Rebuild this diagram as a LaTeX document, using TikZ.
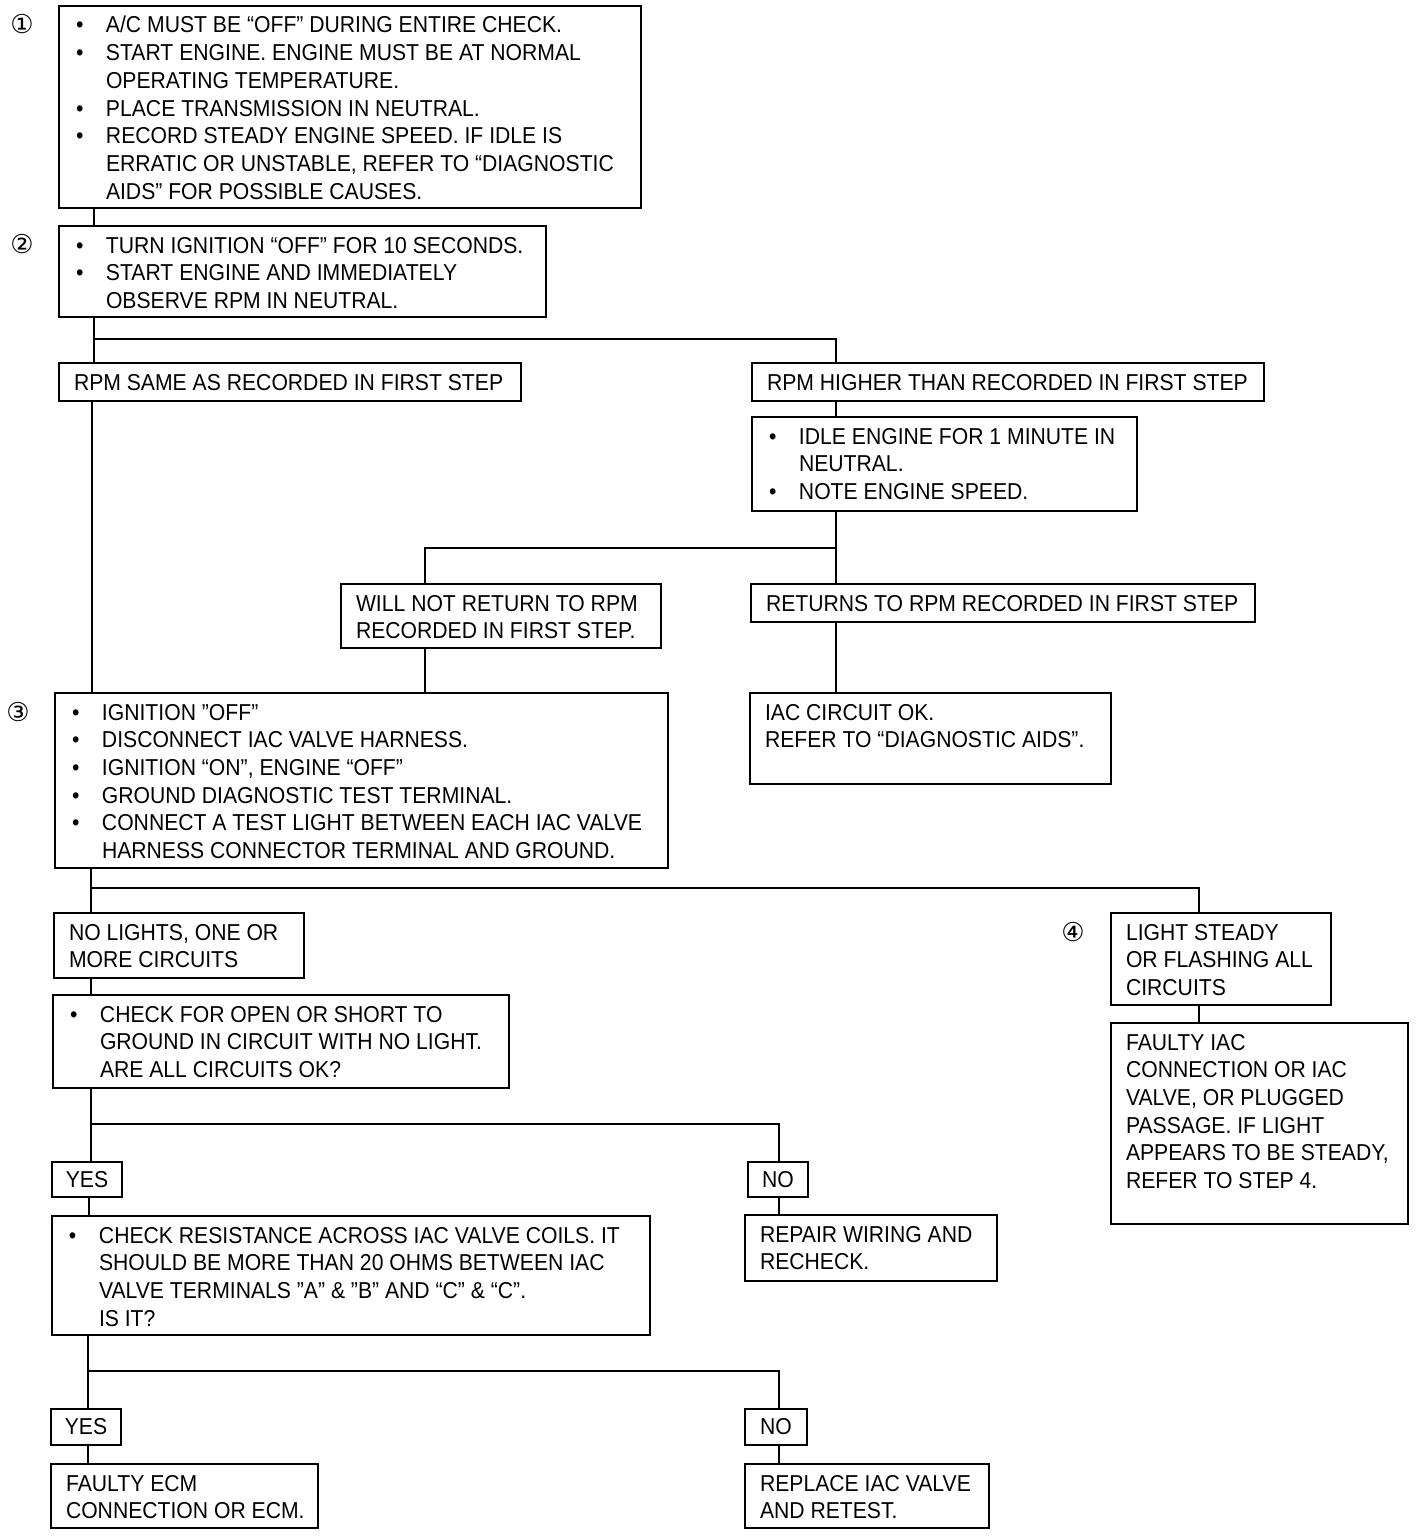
\documentclass[tikz,border=0pt]{standalone}
\usepackage{fontspec}
\setmainfont{Liberation Sans}[FakeStretch=0.92]
\newfontfamily\circfont{DejaVu Sans}
\newcommand{\mystrut}{\rule[-7.7pt]{0pt}{27.7pt}}
\newcommand{\Bl}[1]{\hbox to \hsize{\hskip17pt\hbox to 30pt{\textbullet\hss}\mystrut#1\hss}}
\newcommand{\Cl}[1]{\hbox to \hsize{\hskip47pt\mystrut#1\hss}}
\newcommand{\Pl}[1]{\hbox to \hsize{\hskip15pt\mystrut#1\hss}}
\newcommand{\Bcont}[3]{\parbox[c][#2pt][t]{#1pt}{\baselineskip=27.7pt\vspace*{7pt}#3}}
\newcommand{\Ycont}[3]{\parbox[c][#2pt][c]{#1pt}{\centering #3}}
\begin{document}
\begin{tikzpicture}[x=1pt,y=-1pt,
  every node/.style={font=\fontsize{23pt}{27.7pt}\selectfont},
  box/.style={draw, line width=2.5pt, inner sep=0pt, outer sep=0pt, anchor=north west},
  conn/.style={line width=2.3pt},
  circ/.style={font=\circfont\fontsize{26pt}{26pt}\selectfont, inner sep=0pt}]
\useasboundingbox (0,0) rectangle (1424,1536);

\node[circ] (n1) at (22,24) {①};
\node[circ] (n2) at (22,244) {②};
\node[circ] (n3) at (18,712) {③};
\node[circ] (n4) at (1073,932) {④};

\node[box] (b1) at (59,6) {\Bcont{582}{202}{%
\Bl{A/C MUST BE “OFF” DURING ENTIRE CHECK.}
\Bl{START ENGINE. ENGINE MUST BE AT NORMAL}
\Cl{OPERATING TEMPERATURE.}
\Bl{PLACE TRANSMISSION IN NEUTRAL.}
\Bl{RECORD STEADY ENGINE SPEED. IF IDLE IS}
\Cl{ERRATIC OR UNSTABLE, REFER TO “DIAGNOSTIC}
\Cl{AIDS” FOR POSSIBLE CAUSES.}}};

\node[box] (b2) at (59,226) {\Bcont{487}{91}{%
\Bl{TURN IGNITION “OFF” FOR 10 SECONDS.}
\Bl{START ENGINE AND IMMEDIATELY}
\Cl{OBSERVE RPM IN NEUTRAL.}}};

\node[box] (same) at (59,363) {\Bcont{462}{38}{%
\Pl{RPM SAME AS RECORDED IN FIRST STEP}}};

\node[box] (high) at (752,363) {\Bcont{512}{38}{%
\Pl{RPM HIGHER THAN RECORDED IN FIRST STEP}}};

\node[box] (idle) at (752,417) {\Bcont{385}{94}{%
\Bl{IDLE ENGINE FOR 1 MINUTE IN}
\Cl{NEUTRAL.}
\Bl{NOTE ENGINE SPEED.}}};

\node[box] (willnot) at (341,584) {\Bcont{320}{64}{%
\Pl{WILL NOT RETURN TO RPM}
\Pl{RECORDED IN FIRST STEP.}}};

\node[box] (returns) at (751,584) {\Bcont{504}{38}{%
\Pl{RETURNS TO RPM RECORDED IN FIRST STEP}}};

\node[box] (iacok) at (750,693) {\Bcont{361}{91}{%
\Pl{IAC CIRCUIT OK.}
\Pl{REFER TO “DIAGNOSTIC AIDS”.}}};

\node[box] (b3) at (55,693) {\Bcont{613}{175}{%
\Bl{IGNITION "OFF"}
\Bl{DISCONNECT IAC VALVE HARNESS.}
\Bl{IGNITION “ON”, ENGINE “OFF”}
\Bl{GROUND DIAGNOSTIC TEST TERMINAL.}
\Bl{CONNECT A TEST LIGHT BETWEEN EACH IAC VALVE}
\Cl{HARNESS CONNECTOR TERMINAL AND GROUND.}}};

\node[box] (nolights) at (54,913) {\Bcont{250}{65}{%
\Pl{NO LIGHTS, ONE OR}
\Pl{MORE CIRCUITS}}};

\node[box] (light) at (1111,913) {\Bcont{220}{92}{%
\Pl{LIGHT STEADY}
\Pl{OR FLASHING ALL}
\Pl{CIRCUITS}}};

\node[box] (faulty) at (1111,1023) {\Bcont{297}{201}{%
\Pl{FAULTY IAC}
\Pl{CONNECTION OR IAC}
\Pl{VALVE, OR PLUGGED}
\Pl{PASSAGE. IF LIGHT}
\Pl{APPEARS TO BE STEADY,}
\Pl{REFER TO STEP 4.}}};

\node[box] (check) at (53,995) {\Bcont{456}{93}{%
\Bl{CHECK FOR OPEN OR SHORT TO}
\Cl{GROUND IN CIRCUIT WITH NO LIGHT.}
\Cl{ARE ALL CIRCUITS OK?}}};

\node[box] (yes1) at (52,1162) {\Ycont{70}{35}{YES}};
\node[box] (no1) at (748,1162) {\Ycont{60}{35}{NO}};

\node[box] (repair) at (745,1215) {\Bcont{252}{66}{%
\Pl{REPAIR WIRING AND}
\Pl{RECHECK.}}};

\node[box] (res) at (52,1216) {\Bcont{598}{119}{%
\Bl{CHECK RESISTANCE ACROSS IAC VALVE COILS. IT}
\Cl{SHOULD BE MORE THAN 20 OHMS BETWEEN IAC}
\Cl{VALVE TERMINALS "A" \& "B" AND “C” \& “C”.}
\Cl{IS IT?}}};

\node[box] (yes2) at (51,1409) {\Ycont{70}{36}{YES}};
\node[box] (no2) at (745,1409) {\Ycont{62}{36}{NO}};

\node[box] (ecm) at (51,1464) {\Bcont{267}{64}{%
\Pl{FAULTY ECM}
\Pl{CONNECTION OR ECM.}}};

\node[box] (replace) at (745,1464) {\Bcont{244}{64}{%
\Pl{REPLACE IAC VALVE}
\Pl{AND RETEST.}}};

\coordinate (xA) at (94,0);
\coordinate (xB) at (836,0);
\coordinate (xC) at (425,0);
\coordinate (xD) at (92,0);
\coordinate (xE) at (91,0);
\coordinate (xF) at (1199,0);
\coordinate (xG) at (779,0);
\coordinate (xH) at (89,0);
\coordinate (xI) at (88,0);
\coordinate (j1) at (94,339);
\coordinate (j2) at (836,548);
\coordinate (j3) at (91,888);
\coordinate (j4) at (91,1124);
\coordinate (j5) at (88,1371);

\draw[conn] (xA |- b1.south) -- (xA |- b2.north);
\draw[conn] (xA |- b2.south) -- (xA |- same.north);
\draw[conn] (j1) -| (xB |- high.north);
\draw[conn] (xB |- high.south) -- (xB |- idle.north);
\draw[conn] (xB |- idle.south) -- (xB |- returns.north);
\draw[conn] (j2) -| (xC |- willnot.north);
\draw[conn] (xB |- returns.south) -- (xB |- iacok.north);
\draw[conn] (xC |- willnot.south) -- (xC |- b3.north);
\draw[conn] (xD |- same.south) -- (xD |- b3.north);
\draw[conn] (xE |- b3.south) -- (xE |- nolights.north);
\draw[conn] (j3) -| (xF |- light.north);
\draw[conn] (xF |- light.south) -- (xF |- faulty.north);
\draw[conn] (xE |- nolights.south) -- (xE |- check.north);
\draw[conn] (xE |- check.south) -- (xE |- yes1.north);
\draw[conn] (j4) -| (xG |- no1.north);
\draw[conn] (xH |- yes1.south) -- (xH |- res.north);
\draw[conn] (xG |- no1.south) -- (xG |- repair.north);
\draw[conn] (xI |- res.south) -- (xI |- yes2.north);
\draw[conn] (j5) -| (xG |- no2.north);
\draw[conn] (xI |- yes2.south) -- (xI |- ecm.north);
\draw[conn] (xG |- no2.south) -- (xG |- replace.north);
\end{tikzpicture}
\end{document}
